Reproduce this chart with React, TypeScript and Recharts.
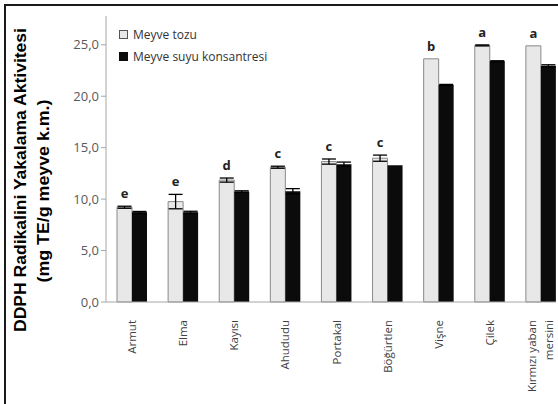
import React from "react";
import { BarChart, Bar, XAxis, YAxis, ErrorBar, LabelList } from "recharts";

const categories = [
  "Armut",
  "Elma",
  "Kayısı",
  "Ahududu",
  "Portakal",
  "Böğürtlen",
  "Vişne",
  "Çilek",
  "Kırmızı yaban mersini",
];
const tozu = [9.21, 9.76, 11.85, 13.1, 13.65, 13.98, 23.64, 24.94, 24.9];
const tozuErr = [0.1, 0.7, 0.2, 0.1, 0.25, 0.3, 0, 0.05, 0];
const suyu = [8.72, 8.72, 10.73, 10.77, 13.4, 13.3, 21.1, 23.4, 22.96];
const suyuErr = [0.08, 0.1, 0.08, 0.25, 0.2, 0, 0.05, 0.05, 0.1];
const letters = ["e", "e", "d", "c", "c", "c", "b", "a", "a"];
const yTicks = [0, 5, 10, 15, 20, 25];

const data = categories.map((name, i) => ({
  name,
  tozu: tozu[i],
  tozuErr: tozuErr[i],
  suyu: suyu[i],
  suyuErr: suyuErr[i],
  letter: letters[i],
}));

const FONT = "'Open Sans', sans-serif";

function CategoryTick({ x, y, payload }: any) {
  const label: string = payload.value;
  let lines = [label];
  if (label.length > 15) {
    const cut = label.lastIndexOf(" ");
    lines = [label.slice(0, cut), label.slice(cut + 1)];
  }
  const step = 17;
  const start = -((lines.length - 1) * step) / 2;
  return (
    <g transform={`translate(${x},${y + 10}) rotate(-90)`}>
      {lines.map((l, i) => (
        <text
          key={i}
          x={0}
          y={start + i * step}
          textAnchor="end"
          dominantBaseline="central"
          fontSize={11.5}
          fontFamily={FONT}
          fill="#404040"
        >
          {l}
        </text>
      ))}
    </g>
  );
}

function LetterLabel(props: any) {
  const { x, y, width, height, index } = props;
  const row = data[index];
  const pxPerUnit = height / row.tozu;
  const top = y - row.tozuErr * pxPerUnit;
  return (
    <text
      x={x + width / 2}
      y={top - 8}
      textAnchor="middle"
      fontSize={13}
      fontWeight={700}
      fontFamily={FONT}
      fill="#222"
    >
      {row.letter}
    </text>
  );
}

export default function App() {
  return (
    <div
      style={{
        position: "fixed",
        left: 0,
        top: 0,
        width: 558,
        height: 404,
        background: "#fff",
      }}
    >
      <style>{"html,body{margin:0;overflow:hidden;background:#fff}"}</style>
      <div style={{ position: "absolute", left: 0, top: 0 }}>
        {/* the plot runs a little past the right edge, as in the cropped original */}
        <BarChart
          width={558}
          height={404}
          data={data}
          margin={{ top: 16, right: -8, bottom: 0, left: 46 }}
          barSize={15}
          barGap={0}
        >
          <XAxis
            dataKey="name"
            interval={0}
            height={102}
            tickLine={false}
            axisLine={{ stroke: "#a6a6a6" }}
            tick={<CategoryTick />}
          />
          <YAxis
            width={60}
            domain={[0, 27.8]}
            ticks={yTicks}
            tickFormatter={(v: number) => v.toFixed(1).replace(".", ",")}
            axisLine={{ stroke: "#a6a6a6" }}
            tickLine={{ stroke: "#a6a6a6" }}
            tickSize={5}
            tick={{ fontSize: 13, fill: "#595959", fontFamily: FONT }}
          />
          <Bar
            dataKey="tozu"
            fill="#e8e8e8"
            stroke="#8a8a8a"
            strokeWidth={1}
            isAnimationActive={false}
          >
            <ErrorBar dataKey="tozuErr" width={7} stroke="#000" strokeWidth={1.3} />
            <LabelList dataKey="letter" content={<LetterLabel />} />
          </Bar>
          <Bar dataKey="suyu" fill="#0b0b0b" isAnimationActive={false}>
            <ErrorBar dataKey="suyuErr" width={7} stroke="#000" strokeWidth={1.3} />
          </Bar>
        </BarChart>
      </div>
      {/* frame (top + left edges only, the rest is cropped), axis title and legend */}
      <svg
        width={558}
        height={404}
        style={{ position: "absolute", left: 0, top: 0, pointerEvents: "none" }}
      >
        <rect x={556} y={0} width={2} height={404} fill="#fff" />
        <path d="M5,404 V5 H558" fill="none" stroke="#1a1a1a" strokeWidth={2} />
        <g transform="translate(0,180) rotate(-90)">
          <text
            x={0}
            y={26}
            textAnchor="middle"
            fontSize={16}
            fontWeight={700}
            textLength={304}
            lengthAdjust="spacingAndGlyphs"
            fontFamily="'Liberation Sans', sans-serif"
            fill="#000"
          >
            DDPH Radikalini Yakalama Aktivitesi
          </text>
          <text
            x={-11}
            y={49}
            textAnchor="middle"
            fontSize={16}
            fontWeight={700}
            textLength={183}
            lengthAdjust="spacingAndGlyphs"
            fontFamily="'Liberation Sans', sans-serif"
            fill="#000"
          >
            (mg TE/g meyve k.m.)
          </text>
        </g>
        <rect x={119.5} y={30.5} width={8} height={8} fill="#e8e8e8" stroke="#555" />
        <text x={133} y={39} fontSize={12} fontFamily={FONT} fill="#333">
          Meyve tozu
        </text>
        <rect x={119.5} y={52.5} width={8} height={8} fill="#0b0b0b" stroke="#0b0b0b" />
        <text x={133} y={61} fontSize={12} fontFamily={FONT} fill="#333">
          Meyve suyu konsantresi
        </text>
      </svg>
    </div>
  );
}
